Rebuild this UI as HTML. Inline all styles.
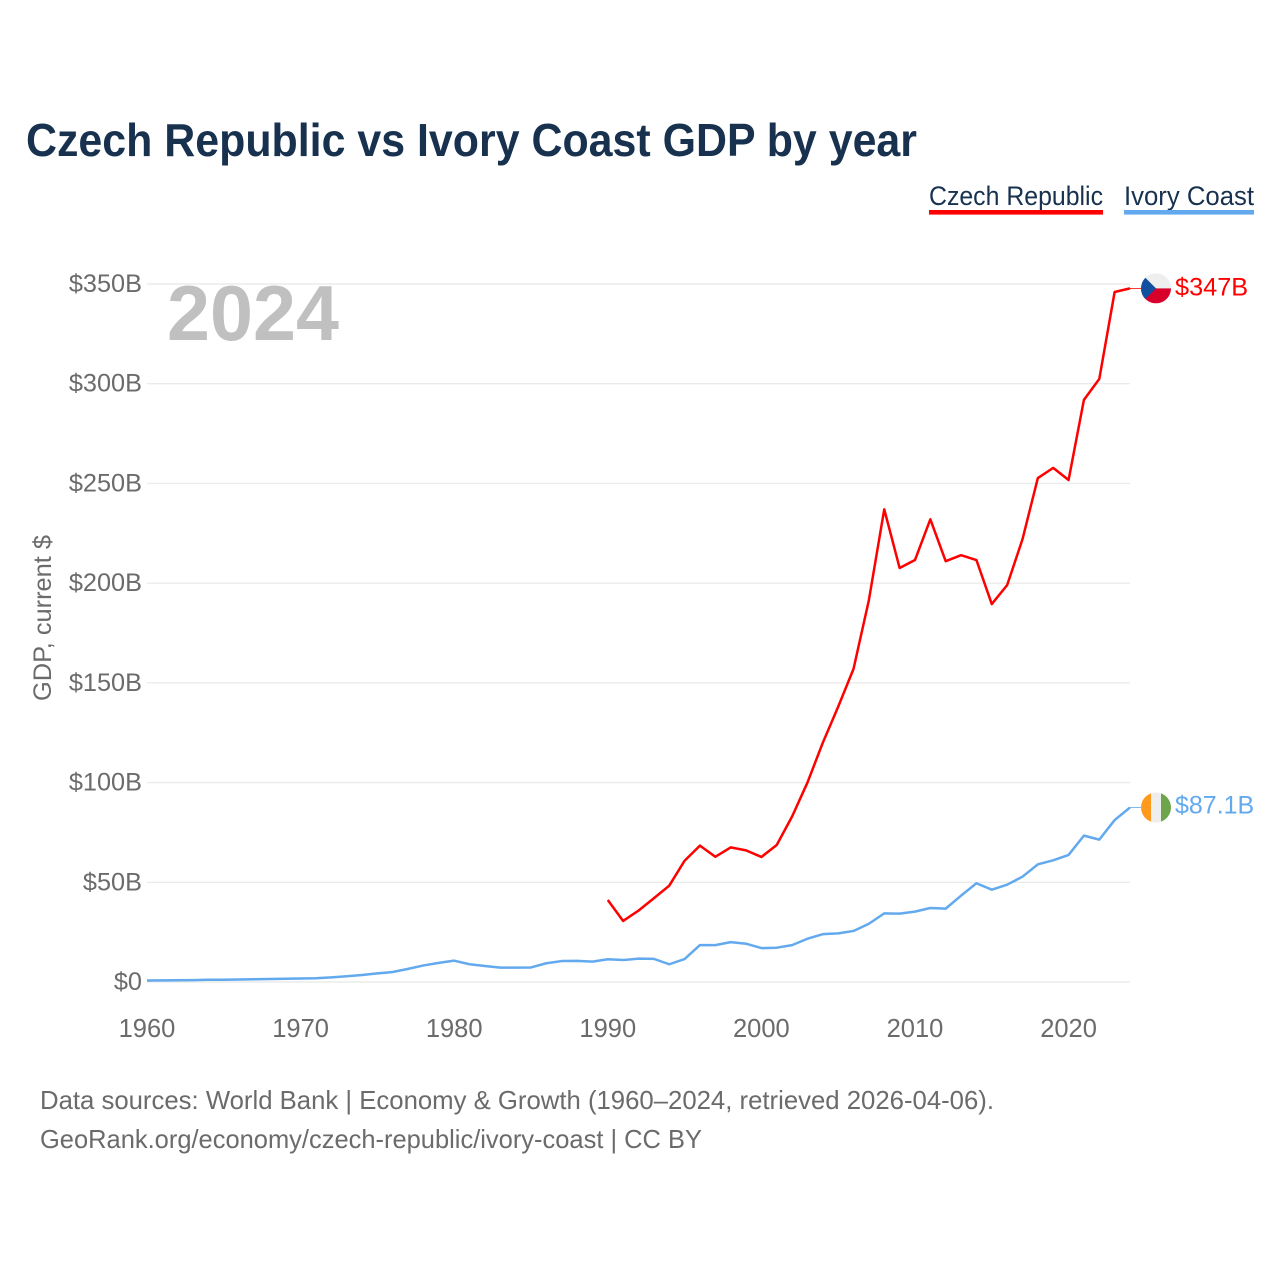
<!DOCTYPE html>
<html lang="en">
<head>
<meta charset="utf-8">
<title>Czech Republic vs Ivory Coast GDP by year</title>
<style>
html,body{margin:0;padding:0;background:#fff;}
svg{display:block;}
text{font-family:"Liberation Sans",Arial,sans-serif;}
</style>
</head>
<body>
<svg id="chart" xmlns="http://www.w3.org/2000/svg" width="1280" height="1280" viewBox="0 0 1280 1280">
  <rect x="0" y="0" width="1280" height="1280" fill="#ffffff"/>
  <text x="26" y="156" font-size="46" font-weight="700" fill="#17314f" textLength="891" lengthAdjust="spacingAndGlyphs">Czech Republic vs Ivory Coast GDP by year</text>

  <g>
    <text x="929" y="205" font-size="27" fill="#17314f" textLength="174" lengthAdjust="spacingAndGlyphs">Czech Republic</text>
    <rect x="929" y="210" width="174" height="4.6" fill="#ff0000"/>
  </g>
  <g>
    <text x="1124" y="205" font-size="27" fill="#17314f" textLength="130" lengthAdjust="spacingAndGlyphs">Ivory Coast</text>
    <rect x="1124" y="210" width="130" height="4.6" fill="#62a9ee"/>
  </g>

  <text transform="translate(51,618) rotate(-90)" text-anchor="middle" font-size="25" fill="#6b6b6b" textLength="166" lengthAdjust="spacingAndGlyphs">GDP, current $</text>

  <g id="grid"></g>
  <g id="yticks"></g>
  <g id="xticks"></g>

  <text x="167" y="340" font-size="78" font-weight="700" fill="#c0c0c0" textLength="172" lengthAdjust="spacingAndGlyphs">2024</text>

  <g id="series"></g>

  <defs>
    <clipPath id="flag-clip"><circle cx="0" cy="0" r="15"/></clipPath>
  </defs>
  <g id="flag-cz">
    <g clip-path="url(#flag-clip)">
      <rect x="-15" y="-15" width="30" height="15" fill="#eeeeee"/>
      <rect x="-15" y="0" width="30" height="15" fill="#d7002b"/>
      <polygon points="-15,-15 0,0 -15,15" fill="#11509f"/>
    </g>
  </g>
  <g id="flag-ci">
    <g clip-path="url(#flag-clip)">
      <rect x="-15" y="-15" width="10" height="30" fill="#ff9a1c"/>
      <rect x="-5" y="-15" width="10" height="30" fill="#eeeeee"/>
      <rect x="5" y="-15" width="10" height="30" fill="#6ea44c"/>
    </g>
  </g>
  <g id="end-labels"></g>

  <text x="40" y="1109" font-size="26" fill="#6b6b6b" textLength="954" lengthAdjust="spacingAndGlyphs">Data sources: World Bank | Economy &amp; Growth (1960–2024, retrieved 2026-04-06).</text>
  <text x="40" y="1148" font-size="26" fill="#6b6b6b" textLength="662" lengthAdjust="spacingAndGlyphs">GeoRank.org/economy/czech-republic/ivory-coast | CC BY</text>
</svg>

<script>
const years = [1960,1961,1962,1963,1964,1965,1966,1967,1968,1969,1970,1971,1972,1973,1974,1975,1976,1977,1978,1979,1980,1981,1982,1983,1984,1985,1986,1987,1988,1989,1990,1991,1992,1993,1994,1995,1996,1997,1998,1999,2000,2001,2002,2003,2004,2005,2006,2007,2008,2009,2010,2011,2012,2013,2014,2015,2016,2017,2018,2019,2020,2021,2022,2023,2024];
const czechValues = [null,null,null,null,null,null,null,null,null,null,null,null,null,null,null,null,null,null,null,null,null,null,null,null,null,null,null,null,null,null,41.1,30.6,35.8,42,48.3,60.8,68.4,62.8,67.5,66,62.7,68.7,83,100,120,138,157,191.5,237,207.6,211.6,232,211,214,211.6,189.5,199,222,252.7,257.8,251.7,291.9,302.4,346,347.8];
const ivoryValues = [0.75,0.8,0.85,0.95,1.1,1.15,1.25,1.35,1.5,1.6,1.75,1.9,2.3,2.9,3.5,4.3,5,6.6,8.3,9.6,10.7,8.9,8,7.2,7.2,7.3,9.4,10.5,10.6,10.2,11.4,11,11.7,11.6,8.9,11.5,18.5,18.5,20,19.2,17,17.2,18.5,21.7,24,24.4,25.6,29.2,34.4,34.3,35.3,37.1,36.8,43.3,49.5,46.3,48.8,52.8,59,61,63.7,73.4,71.4,81.2,87.5];
const yTickValues = [0,50,100,150,200,250,300,350];
const yTickLabels = ["$0","$50B","$100B","$150B","$200B","$250B","$300B","$350B"];
const xTickYears = [1960,1970,1980,1990,2000,2010,2020];
const czechEndLabel = "$347B";
const ivoryEndLabel = "$87.1B";

const SVG_NS = "http://www.w3.org/2000/svg";
const plotLeft = 147, plotRight = 1130, plotBottom = 982, plotTop = 284;
function xScale(year){ return plotLeft + (year - 1960) * (plotRight - plotLeft) / (2024 - 1960); }
function yScale(value){ return plotBottom - value * (plotBottom - plotTop) / 350; }

const grid = document.getElementById("grid");
const yticks = document.getElementById("yticks");
const xticks = document.getElementById("xticks");
const series = document.getElementById("series");
const endLabels = document.getElementById("end-labels");

yTickValues.forEach(function(v, i){
  const line = document.createElementNS(SVG_NS, "line");
  
  
  line.setAttribute("x1", plotLeft);
  line.setAttribute("x2", plotRight);
  line.setAttribute("y1", yScale(v));
  line.setAttribute("y2", yScale(v));
  line.setAttribute("stroke", "#ebebeb");
  line.setAttribute("stroke-width", "1.4");
  grid.appendChild(line);

  const label = document.createElementNS(SVG_NS, "text");
  
  
  label.setAttribute("x", 142);
  label.setAttribute("y", yScale(v) + 8);
  label.setAttribute("text-anchor", "end");
  label.setAttribute("font-size", "25.3");
  label.setAttribute("fill", "#6b6b6b");
  label.textContent = yTickLabels[i];
  yticks.appendChild(label);
});

xTickYears.forEach(function(y){
  const label = document.createElementNS(SVG_NS, "text");
  
  
  label.setAttribute("x", xScale(y));
  label.setAttribute("y", 1037);
  label.setAttribute("text-anchor", "middle");
  label.setAttribute("font-size", "25.5");
  label.setAttribute("fill", "#6b6b6b");
  label.textContent = String(y);
  xticks.appendChild(label);
});

function buildPath(values){
  let d = "";
  values.forEach(function(v, i){
    if (v === null) return;
    d += (d === "" ? "M" : "L") + xScale(years[i]).toFixed(2) + " " + yScale(v).toFixed(2);
  });
  return d;
}

const ivoryLine = document.createElementNS(SVG_NS, "path");


ivoryLine.setAttribute("d", buildPath(ivoryValues));
ivoryLine.setAttribute("fill", "none");
ivoryLine.setAttribute("stroke", "#62a9ee");
ivoryLine.setAttribute("stroke-width", "2.5");
ivoryLine.setAttribute("stroke-linejoin", "round");
series.appendChild(ivoryLine);

const czechLine = document.createElementNS(SVG_NS, "path");


czechLine.setAttribute("d", buildPath(czechValues));
czechLine.setAttribute("fill", "none");
czechLine.setAttribute("stroke", "#ff0000");
czechLine.setAttribute("stroke-width", "2.5");
czechLine.setAttribute("stroke-linejoin", "round");
series.appendChild(czechLine);

const czechEndY = yScale(czechValues[czechValues.length - 1]);
const ivoryEndY = yScale(ivoryValues[ivoryValues.length - 1]);

const czechStub = document.createElementNS(SVG_NS, "line");


czechStub.setAttribute("x1", plotRight);
czechStub.setAttribute("x2", 1141);
czechStub.setAttribute("y1", czechEndY);
czechStub.setAttribute("y2", czechEndY);
czechStub.setAttribute("stroke", "#ff0000");
czechStub.setAttribute("stroke-width", "0.8");
series.appendChild(czechStub);

const ivoryStub = document.createElementNS(SVG_NS, "line");


ivoryStub.setAttribute("x1", plotRight);
ivoryStub.setAttribute("x2", 1141);
ivoryStub.setAttribute("y1", ivoryEndY);
ivoryStub.setAttribute("y2", ivoryEndY);
ivoryStub.setAttribute("stroke", "#62a9ee");
ivoryStub.setAttribute("stroke-width", "0.8");
series.appendChild(ivoryStub);

document.getElementById("flag-cz").setAttribute("transform", "translate(1156," + czechEndY + ")");
document.getElementById("flag-ci").setAttribute("transform", "translate(1156," + ivoryEndY + ")");

const czechLabel = document.createElementNS(SVG_NS, "text");


czechLabel.setAttribute("x", 1175);
czechLabel.setAttribute("y", czechEndY + 7);
czechLabel.setAttribute("font-size", "25.3");
czechLabel.setAttribute("fill", "#ff0000");
czechLabel.textContent = czechEndLabel;
endLabels.appendChild(czechLabel);

const ivoryLabel = document.createElementNS(SVG_NS, "text");


ivoryLabel.setAttribute("x", 1175);
ivoryLabel.setAttribute("y", ivoryEndY + 6);
ivoryLabel.setAttribute("font-size", "25");
ivoryLabel.setAttribute("fill", "#62a9ee");
ivoryLabel.textContent = ivoryEndLabel;
endLabels.appendChild(ivoryLabel);
</script>
</body>
</html>
